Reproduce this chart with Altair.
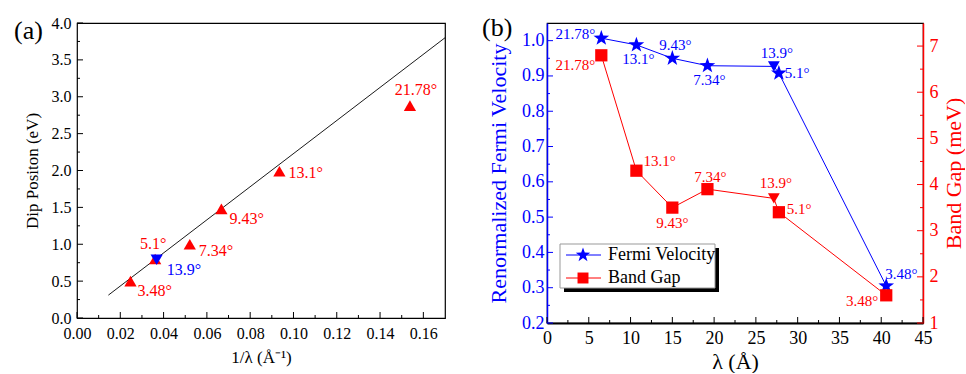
import altair as alt
import pandas as pd

FONT = "Liberation Serif"
BLUE = "#0000ff"
RED = "#ff0000"
STAR = ("M0,-1L0.235,-0.324L0.951,-0.309L0.380,0.124L0.588,0.809L0,0.4"
        "L-0.588,0.809L-0.380,0.124L-0.951,-0.309L-0.235,-0.324Z")

# ---------------- Panel (a) data ----------------
a_labels = ["3.48°", "5.1°", "7.34°", "9.43°", "13.1°", "21.78°"]
a_inv_lambda = [0.0247, 0.0361, 0.0521, 0.0667, 0.0935, 0.1538]
a_dip = [0.50, 0.80, 1.00, 1.48, 1.99, 2.88]
a_blue_labels = ["13.9°"]
a_blue_inv_lambda = [0.0368]
a_blue_dip = [0.79]
a_fit_x = [0.0145, 0.170]
a_fit_y = [0.31, 3.80]

a_x_major = [0.00, 0.02, 0.04, 0.06, 0.08, 0.10, 0.12, 0.14, 0.16]
a_x_minor = [0.01, 0.03, 0.05, 0.07, 0.09, 0.11, 0.13, 0.15]
a_y_major = [0.0, 0.5, 1.0, 1.5, 2.0, 2.5, 3.0, 3.5, 4.0]
a_y_minor = [0.25, 0.75, 1.25, 1.75, 2.25, 2.75, 3.25, 3.75]

# ---------------- Panel (b) data ----------------
b_angles = ["21.78°", "13.1°", "9.43°", "7.34°", "13.9°", "5.1°", "3.48°"]
b_lambda = [6.5, 10.7, 15.0, 19.2, 27.15, 27.75, 40.6]
b_fermi = [1.007, 0.988, 0.950, 0.929, 0.927, 0.908, 0.305]
b_gap = [6.8, 4.3, 3.5, 3.9, 3.7, 3.4, 1.6]
b_shape_fermi = ["star", "star", "star", "star", "tri", "star", "star"]
b_shape_gap = ["square", "square", "square", "square", "tri", "square", "square"]

b_x_major = [0, 5, 10, 15, 20, 25, 30, 35, 40, 45]
b_x_minor = [2.5, 7.5, 12.5, 17.5, 22.5, 27.5, 32.5, 37.5, 42.5]
b_y1_major = [0.2, 0.3, 0.4, 0.5, 0.6, 0.7, 0.8, 0.9, 1.0]
b_y1_minor = [0.25, 0.35, 0.45, 0.55, 0.65, 0.75, 0.85, 0.95]
b_y2_major = [1, 2, 3, 4, 5, 6, 7]
b_y2_minor = [1.5, 2.5, 3.5, 4.5, 5.5, 6.5]

# label placement styles (pixel offsets)
a_lab_style = {
    "3.48°": ("left", 7, 10), "5.1°": ("center", -2, -15), "7.34°": ("left", 9, 7),
    "9.43°": ("left", 8, 10), "13.1°": ("left", 9, 2), "21.78°": ("center", 6, -16),
}
b_blue_style = {
    "21.78°": ("right", -6, -4), "13.1°": ("center", 2, 14), "9.43°": ("center", 3, -13),
    "7.34°": ("center", 2, 14), "13.9°": ("center", 3, -13), "5.1°": ("left", 6, 0),
    "3.48°": ("left", -1, -12),
}
b_red_style = {
    "21.78°": ("right", -6, 10), "13.1°": ("left", 7, -10), "9.43°": ("center", 0, 15),
    "7.34°": ("center", 3, -12), "13.9°": ("center", 2, -15), "5.1°": ("left", 8, -3),
    "3.48°": ("right", -8, 6),
}

AW, AH = 368, 295
BW, BH = 376, 300
one = pd.DataFrame({"k": [0]})

# ---------------- Panel (a) ----------------
xs_a = alt.Scale(domain=[0, 0.17], nice=False, zero=False)
ys_a = alt.Scale(domain=[0, 4], nice=False, zero=False)
ax_xa = alt.Axis(values=a_x_major, format=".2f", ticks=False, domain=False, grid=False,
                 labelFontSize=16, labelPadding=7, labelFlush=False, labelOverlap=False,
                 title="1/λ  (Å⁻¹)", titleFontSize=17, titlePadding=8)
ax_ya = alt.Axis(values=a_y_major, format=".1f", ticks=False, domain=False, grid=False,
                 labelFontSize=16, labelPadding=6, labelFlush=False, labelOverlap=False,
                 title="Dip Positon (eV)", titleFontSize=17, titlePadding=10)


def XA(f):
    return alt.X(f, scale=xs_a, axis=ax_xa)


def YA(f):
    return alt.Y(f, scale=ys_a, axis=ax_ya)


df_a = pd.DataFrame({"x": a_inv_lambda, "y": a_dip, "lab": a_labels})
df_ab = pd.DataFrame({"x": a_blue_inv_lambda, "y": a_blue_dip, "lab": a_blue_labels})
df_fit = pd.DataFrame({"x": a_fit_x, "y": a_fit_y})

fit = alt.Chart(df_fit).mark_line(color="black", strokeWidth=0.9).encode(x=XA("x:Q"), y=YA("y:Q"))
tri = alt.Chart(df_a).mark_point(shape="triangle-up", filled=True, color=RED, size=150, opacity=1).encode(
    x=XA("x:Q"), y=YA("y:Q"))
tri_b = alt.Chart(df_ab).mark_point(shape="triangle-down", filled=True, color=BLUE, size=150, opacity=1).encode(
    x=XA("x:Q"), y=YA("y:Q"))

a_layers = [fit, tri, tri_b]
for lab, (al, dx, dy) in a_lab_style.items():
    a_layers.append(
        alt.Chart(df_a).transform_filter(alt.datum.lab == lab)
        .mark_text(align=al, baseline="middle", dx=dx, dy=dy, fontSize=16, color=RED)
        .encode(x=XA("x:Q"), y=YA("y:Q"), text="lab:N"))
a_layers.append(
    alt.Chart(df_ab).mark_text(align="left", baseline="middle", dx=10, dy=10, fontSize=16, color=BLUE)
    .encode(x=XA("x:Q"), y=YA("y:Q"), text="lab:N"))

# inward ticks (a)
for vals, ln in ((a_x_major, 6), (a_x_minor, 3)):
    a_layers.append(alt.Chart(pd.DataFrame({"v": vals})).mark_rule(color="black", strokeWidth=1).encode(
        x=XA("v:Q"), y=alt.value(AH), y2=alt.value(AH - ln)))
for vals, ln in ((a_y_major, 6), (a_y_minor, 3)):
    a_layers.append(alt.Chart(pd.DataFrame({"v": vals})).mark_rule(color="black", strokeWidth=1).encode(
        y=YA("v:Q"), x=alt.value(0), x2=alt.value(ln)))
a_layers.append(alt.Chart(one).mark_text(text="(a)", align="left", baseline="middle", fontSize=26).encode(
    x=alt.value(-63), y=alt.value(8)))

panel_a = alt.layer(*a_layers).properties(width=AW, height=AH)

# ---------------- Panel (b) ----------------
xs_b = alt.Scale(domain=[0, 45], nice=False, zero=False)
y1s = alt.Scale(domain=[0.2, 1.05], nice=False, zero=False)
y2s = alt.Scale(domain=[1, 7.5], nice=False, zero=False)

ax_xb = alt.Axis(values=b_x_major, format="d", ticks=False, domain=True, domainColor="black",
                 domainWidth=2, grid=False, labelFontSize=18, labelPadding=6, labelFlush=False,
                 labelOverlap=False, title="λ (Å)", titleFontSize=22, titlePadding=4)
ax_y1 = alt.Axis(values=b_y1_major, format=".1f", orient="left", ticks=False, domain=True,
                 domainColor=BLUE, domainWidth=1.5, grid=False, labelFontSize=18, labelPadding=3,
                 labelColor=BLUE, labelFlush=False, labelOverlap=False,
                 title="Renormalized Fermi Velocity", titleColor=BLUE, titleFontSize=22, titlePadding=11)
ax_y2 = alt.Axis(values=b_y2_major, format="d", orient="right", ticks=False, domain=True,
                 domainColor=RED, domainWidth=1.5, grid=False, labelFontSize=18, labelPadding=6,
                 labelColor=RED, labelFlush=False, labelOverlap=False,
                 title="Band Gap (meV)", titleColor=RED, titleFontSize=22, titlePadding=5,
                 titleAngle=270, titleBaseline="top")


def XB(f):
    return alt.X(f, scale=xs_b, axis=ax_xb)


def Y1(f):
    return alt.Y(f, scale=y1s, axis=ax_y1)


def Y2(f):
    return alt.Y(f, scale=y2s, axis=ax_y2)


df_b = pd.DataFrame({"lam": b_lambda, "fermi": b_fermi, "gap": b_gap, "lab": b_angles,
                     "sf": b_shape_fermi, "sg": b_shape_gap, "idx": list(range(len(b_lambda)))})

# blue group
blue_layers = [alt.Chart(df_b).mark_line(color=BLUE, strokeWidth=1).encode(
    x=XB("lam:Q"), y=Y1("fermi:Q"), order="idx:Q")]
for key, shp, sz in (("star", STAR, 270), ("tri", "triangle-down", 140)):
    blue_layers.append(
        alt.Chart(df_b).transform_filter(alt.datum.sf == key)
        .mark_point(shape=shp, filled=True, color=BLUE, size=sz, opacity=1)
        .encode(x=XB("lam:Q"), y=Y1("fermi:Q")))
for lab, (al, dx, dy) in b_blue_style.items():
    blue_layers.append(
        alt.Chart(df_b).transform_filter(alt.datum.lab == lab)
        .mark_text(align=al, baseline="middle", dx=dx, dy=dy, fontSize=15, color=BLUE)
        .encode(x=XB("lam:Q"), y=Y1("fermi:Q"), text="lab:N"))
for vals, ln in ((b_x_major, 6), (b_x_minor, 3)):
    blue_layers.append(alt.Chart(pd.DataFrame({"v": vals})).mark_rule(color="black", strokeWidth=1).encode(
        x=XB("v:Q"), y=alt.value(BH), y2=alt.value(BH - ln)))
for vals, ln in ((b_y1_major, 6), (b_y1_minor, 3)):
    blue_layers.append(alt.Chart(pd.DataFrame({"v": vals})).mark_rule(color=BLUE, strokeWidth=1).encode(
        y=Y1("v:Q"), x=alt.value(0), x2=alt.value(ln)))

# legend
blue_layers += [
    alt.Chart(one).mark_rect(color="black").encode(
        x=alt.value(17), x2=alt.value(172), y=alt.value(225), y2=alt.value(269)),
    alt.Chart(one).mark_rect(fill="white", stroke="#999999", strokeWidth=1).encode(
        x=alt.value(13), x2=alt.value(168), y=alt.value(221), y2=alt.value(265)),
    alt.Chart(one).mark_rule(color=BLUE, strokeWidth=1).encode(
        x=alt.value(19), x2=alt.value(54), y=alt.value(232)),
    alt.Chart(one).mark_point(shape=STAR, filled=True, color=BLUE, size=230, opacity=1).encode(
        x=alt.value(36), y=alt.value(232)),
    alt.Chart(one).mark_text(text="Fermi Velocity", align="left", baseline="middle", fontSize=18).encode(
        x=alt.value(61), y=alt.value(232)),
    alt.Chart(one).mark_rule(color=RED, strokeWidth=1).encode(
        x=alt.value(19), x2=alt.value(54), y=alt.value(255)),
    alt.Chart(one).mark_point(shape="square", filled=True, color=RED, size=120, opacity=1).encode(
        x=alt.value(36), y=alt.value(255)),
    alt.Chart(one).mark_text(text="Band Gap", align="left", baseline="middle", fontSize=18).encode(
        x=alt.value(61), y=alt.value(255)),
    alt.Chart(one).mark_text(text="(b)", align="left", baseline="middle", fontSize=26).encode(
        x=alt.value(-65), y=alt.value(5)),
]
blue_group = alt.layer(*blue_layers)

# red group
red_layers = [alt.Chart(df_b).mark_line(color=RED, strokeWidth=1).encode(
    x=XB("lam:Q"), y=Y2("gap:Q"), order="idx:Q")]
for key, shp, sz in (("square", "square", 150), ("tri", "triangle-down", 140)):
    red_layers.append(
        alt.Chart(df_b).transform_filter(alt.datum.sg == key)
        .mark_point(shape=shp, filled=True, color=RED, size=sz, opacity=1)
        .encode(x=XB("lam:Q"), y=Y2("gap:Q")))
for lab, (al, dx, dy) in b_red_style.items():
    red_layers.append(
        alt.Chart(df_b).transform_filter(alt.datum.lab == lab)
        .mark_text(align=al, baseline="middle", dx=dx, dy=dy, fontSize=15, color=RED)
        .encode(x=XB("lam:Q"), y=Y2("gap:Q"), text="lab:N"))
for vals, ln in ((b_y2_major, 6), (b_y2_minor, 3)):
    red_layers.append(alt.Chart(pd.DataFrame({"v": vals})).mark_rule(color=RED, strokeWidth=1).encode(
        y=Y2("v:Q"), x=alt.value(BW - ln), x2=alt.value(BW)))
red_group = alt.layer(*red_layers)

panel_b = alt.layer(blue_group, red_group).resolve_scale(y="independent").properties(width=BW, height=BH)

chart = alt.hconcat(panel_a, panel_b, spacing=102, bounds="flush").properties(
    padding={"left": 13, "top": 14, "right": 0, "bottom": 0}
).configure(font=FONT).configure_view(stroke="black", strokeWidth=1.2).configure_axis(
    labelFont=FONT, titleFont=FONT, titleFontWeight="normal", labelColor="black", titleColor="black"
)

chart.save("out.html", embed_options={"renderer": "svg", "actions": False})
